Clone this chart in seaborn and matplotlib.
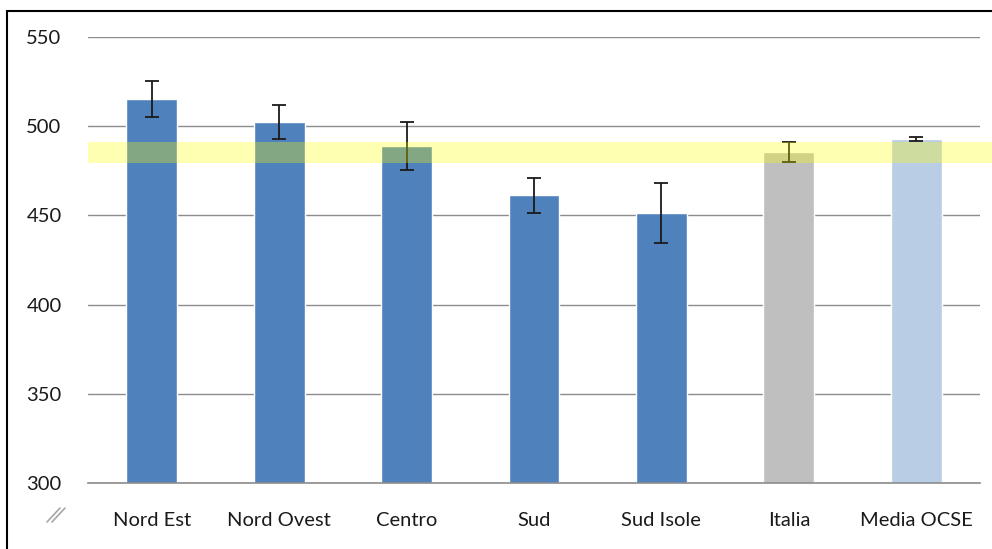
import matplotlib
matplotlib.use("Agg")
import matplotlib.pyplot as plt
from matplotlib.patches import Rectangle
from matplotlib.lines import Line2D
import numpy as np
import pandas as pd
import seaborn as sns

# data
regions = ["Nord Est", "Nord Ovest", "Centro", "Sud", "Sud Isole", "Italia", "Media OCSE"]
scores = [515.2, 502.4, 488.9, 461.3, 451.2, 485.3, 493.0]
errors = [10.3, 9.3, 13.2, 9.8, 16.7, 5.6, 1.2]
bar_colors = ["#4F81BD"] * 5 + ["#BFBFBF", "#B9CDE5"]
band_low, band_high = 479.4, 491.1
y_ticks = [300, 350, 400, 450, 500, 550]

df = pd.DataFrame({"region": regions, "score": scores})

sns.set_theme(style="white")
plt.rcParams["font.family"] = ["Lato", "DejaVu Sans"]

fig = plt.figure(figsize=(9.92, 5.49), dpi=100)
ax = fig.add_axes([88 / 992, 1 - 483 / 549, (980 - 88) / 992, (483 - 37) / 549])

sns.barplot(
    data=df, x="region", y="score", hue="region",
    palette=bar_colors, legend=False, errorbar=None,
    width=0.4, saturation=1, ax=ax, zorder=2,
)
ax.errorbar(
    np.arange(len(regions)), scores, yerr=errors,
    fmt="none", ecolor="#1a1a1a", elinewidth=1.3, capsize=5, capthick=1.3, zorder=3,
)

# yellow band (Italia confidence interval), runs off the right edge
ax.axhspan(band_low, band_high, xmin=0, xmax=1.05, color="#FFFF00", alpha=0.3,
           lw=0, zorder=4, clip_on=False)

ax.set_ylim(300, 550)
ax.set_xlim(-0.5, len(regions) - 0.5)
ax.set_yticks(y_ticks)
ax.yaxis.grid(True, color="#8c8c8c", linewidth=1)
ax.set_axisbelow(True)
for s in ["left", "right", "top"]:
    ax.spines[s].set_visible(False)
ax.spines["bottom"].set_color("#8c8c8c")
ax.spines["bottom"].set_linewidth(1.2)

ax.set_xticks(np.arange(-0.5, len(regions), 1.0), minor=True)
ax.tick_params(axis="x", which="minor", length=7, width=1.2, color="#8c8c8c", direction="out")
ax.tick_params(axis="x", which="major", length=0, pad=21, labelsize=14.5, labelcolor="#1a1a1a")
ax.tick_params(axis="y", length=0, pad=19, labelsize=14.5, labelcolor="#1a1a1a")
ax.set_xlabel("")
ax.set_ylabel("")

# axis break mark "//"
for dx in (0, 5):
    fig.lines.append(Line2D([(47 + dx) / 992, (60 + dx) / 992],
                            [1 - 522 / 549, 1 - 508 / 549],
                            transform=fig.transFigure, color="#a6a6a6", linewidth=1.2))

# outer frame
fig.patches.append(Rectangle((7 / 992, -0.02), 1.0, 1 - 11 / 549 + 0.02,
                             transform=fig.transFigure, fill=False,
                             edgecolor="black", linewidth=1.5))

fig.savefig("out.png", dpi=100)
plt.close(fig)
